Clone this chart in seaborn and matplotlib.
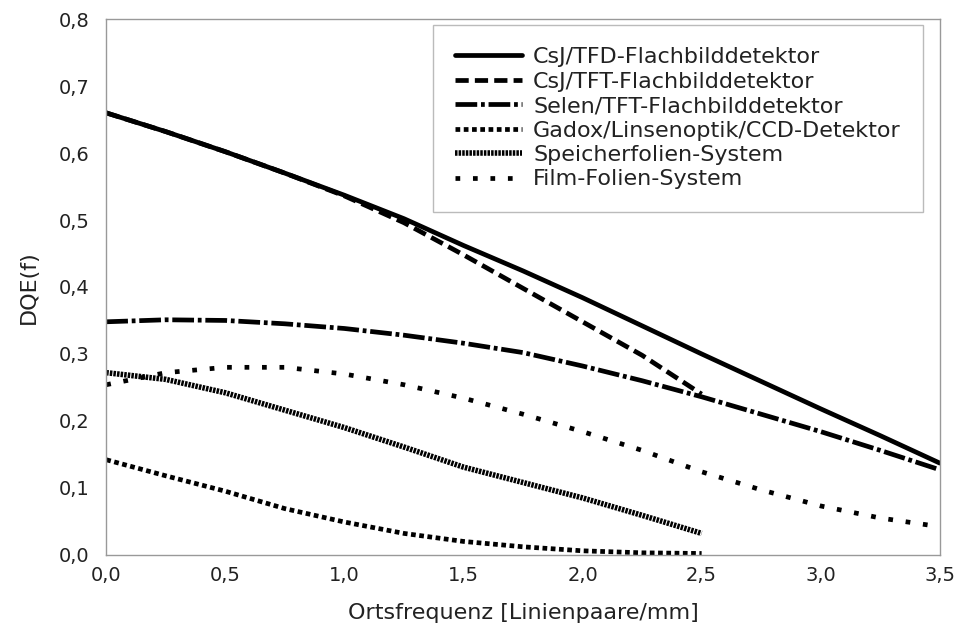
import numpy as np
import pandas as pd
import matplotlib
matplotlib.use("Agg")
import matplotlib.pyplot as plt
import seaborn as sns

freq_full = [0.0, 0.25, 0.5, 0.75, 1.0, 1.25, 1.5, 1.75, 2.0, 2.25, 2.5, 2.75, 3.0, 3.25, 3.5]
freq_short = [0.0, 0.25, 0.5, 0.75, 1.0, 1.25, 1.5, 1.75, 2.0, 2.25, 2.5]

csj_tfd = [0.660, 0.632, 0.602, 0.570, 0.537, 0.502, 0.462, 0.424, 0.384, 0.342, 0.300, 0.259, 0.218, 0.178, 0.137]
csj_tft = [0.660, 0.632, 0.602, 0.570, 0.536, 0.496, 0.448, 0.398, 0.348, 0.298, 0.240]
selen_tft = [0.348, 0.351, 0.350, 0.345, 0.338, 0.328, 0.316, 0.302, 0.282, 0.260, 0.236, 0.210, 0.184, 0.156, 0.127]
gadox_ccd = [0.142, 0.118, 0.095, 0.069, 0.049, 0.032, 0.020, 0.012, 0.006, 0.003, 0.002]
speicherfolie = [0.272, 0.262, 0.242, 0.216, 0.190, 0.161, 0.131, 0.108, 0.085, 0.059, 0.032]
film_folie = [0.254, 0.272, 0.280, 0.280, 0.270, 0.254, 0.234, 0.210, 0.184, 0.156, 0.124, 0.097, 0.073, 0.055, 0.042]

labels = [
    "CsJ/TFD-Flachbilddetektor",
    "CsJ/TFT-Flachbilddetektor",
    "Selen/TFT-Flachbilddetektor",
    "Gadox/Linsenoptik/CCD-Detektor",
    "Speicherfolien-System",
    "Film-Folien-System",
]

x_ticks = [0.0, 0.5, 1.0, 1.5, 2.0, 2.5, 3.0, 3.5]
x_ticklabels = ["0,0", "0,5", "1,0", "1,5", "2,0", "2,5", "3,0", "3,5"]
y_ticks = [0.0, 0.1, 0.2, 0.3, 0.4, 0.5, 0.6, 0.7, 0.8]
y_ticklabels = ["0,0", "0,1", "0,2", "0,3", "0,4", "0,5", "0,6", "0,7", "0,8"]

series = [
    (freq_full, csj_tfd, "-", 3.4),
    (freq_short, csj_tft, (0, (2.8, 1.3)), 3.4),
    (freq_full, selen_tft, (0, (4.6, 0.8, 0.8, 0.8)), 3.4),
    (freq_short, gadox_ccd, (0, (1.0, 0.75)), 3.4),
    (freq_short, speicherfolie, (0, (0.45, 0.2)), 4.0),
    (freq_full, film_folie, (0, (1.0, 2.7)), 3.4),
]

sns.set_theme(style="white")
plt.rcParams["font.family"] = ["DejaVu Sans"]

fig = plt.figure(figsize=(9.57, 6.37), dpi=100)
ax = fig.add_axes([0.111, 0.129, 0.871, 0.841])

for (xs, ys, ls, lw), lab in zip(series, labels):
    df = pd.DataFrame({"f": xs, "dqe": ys})
    sns.lineplot(data=df, x="f", y="dqe", ax=ax, color="black",
                 linestyle=ls, linewidth=lw, label=lab)

ax.set_xlim(0, 3.5)
ax.set_ylim(0, 0.8)
ax.set_xticks(x_ticks)
ax.set_xticklabels(x_ticklabels)
ax.set_yticks(y_ticks)
ax.set_yticklabels(y_ticklabels)
ax.tick_params(axis="both", length=0, labelsize=14, colors="#222222")
ax.tick_params(axis="y", pad=12)
ax.tick_params(axis="x", pad=8)
ax.set_xlabel("Ortsfrequenz [Linienpaare/mm]", fontsize=16, color="#222222", labelpad=13)
ax.set_ylabel("DQE(f)", fontsize=16, color="#222222", labelpad=14)

for sp in ax.spines.values():
    sp.set_color("#999999")
    sp.set_linewidth(1.0)

leg = ax.legend(loc="upper right", bbox_to_anchor=(0.98, 0.989), fontsize=16,
                frameon=True, fancybox=False, shadow=False, handlelength=3.0,
                handletextpad=0.5, labelspacing=0.2, borderpad=1.0,
                borderaxespad=0.0)
leg.get_frame().set_edgecolor("#aaaaaa")
leg.get_frame().set_linewidth(1.0)
for t in leg.get_texts():
    t.set_color("#222222")

fig.savefig("out.png", dpi=100)
